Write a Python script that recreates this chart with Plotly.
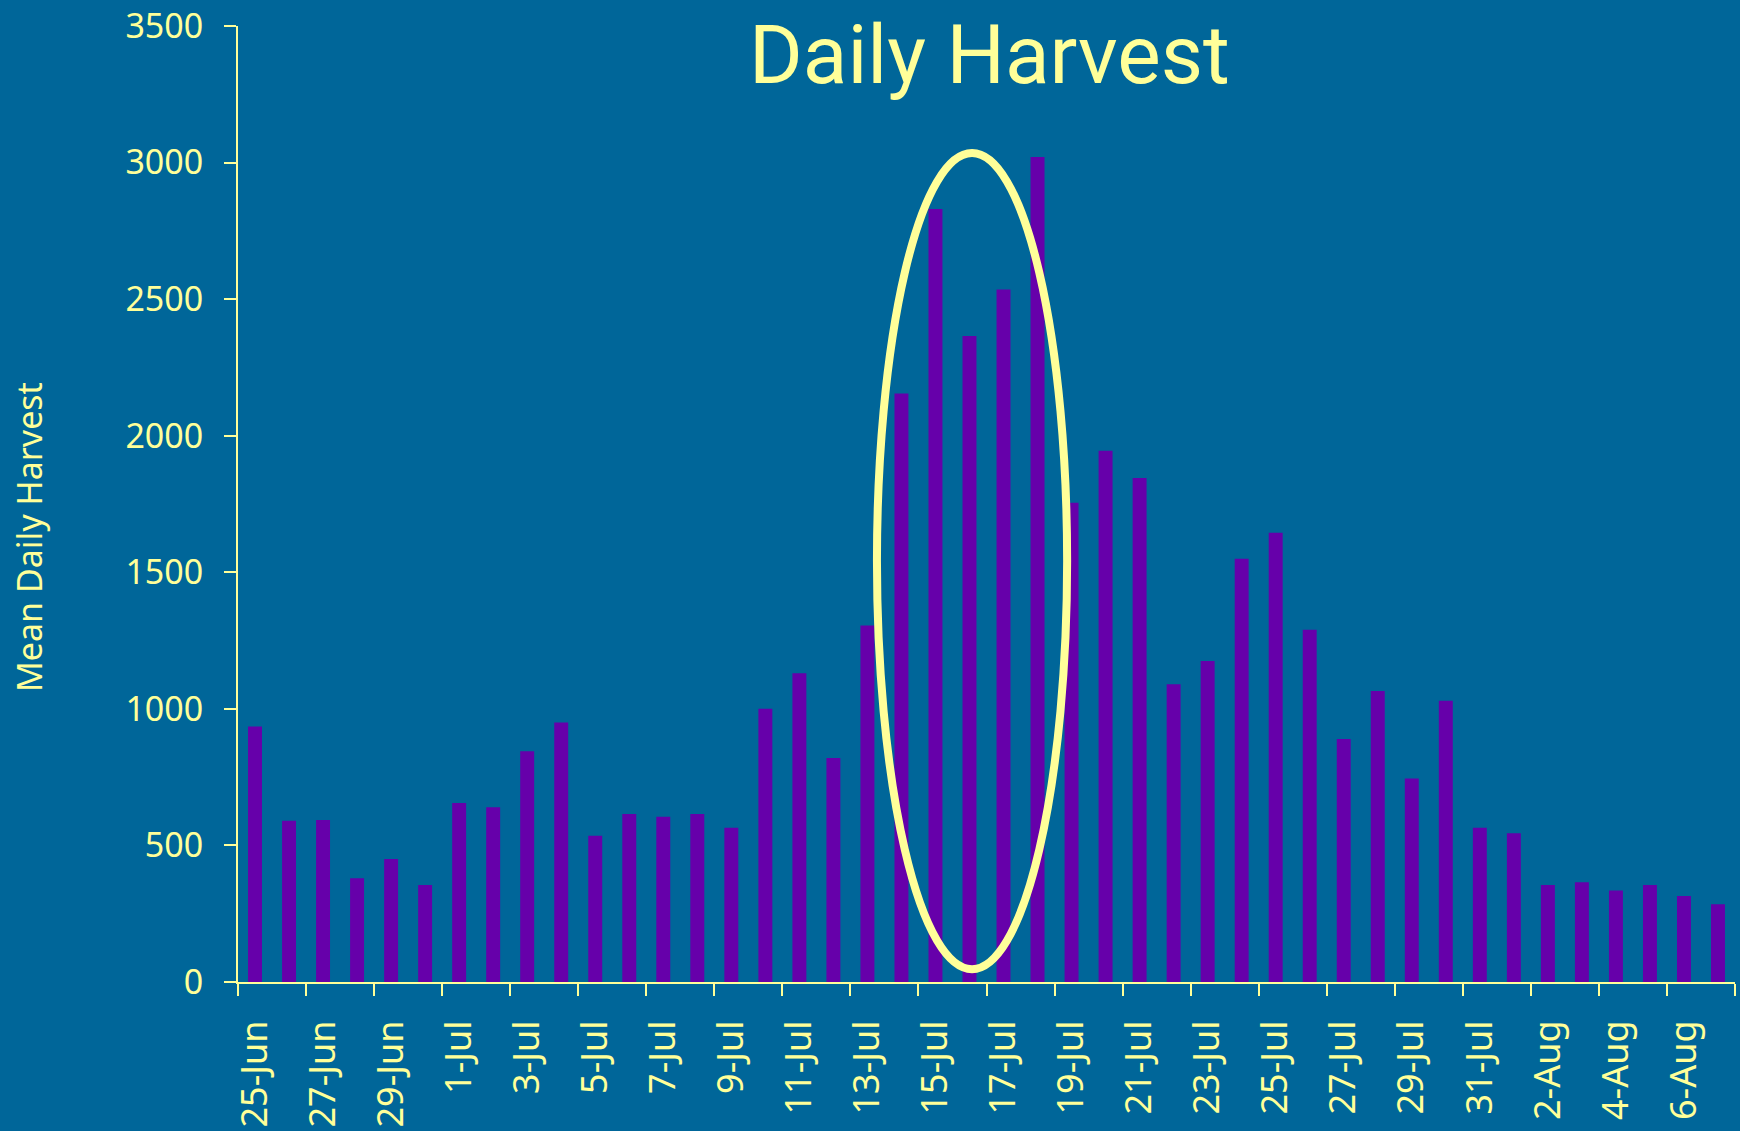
import plotly.graph_objects as go

dates = ["25-Jun", "26-Jun", "27-Jun", "28-Jun", "29-Jun", "30-Jun",
         "1-Jul", "2-Jul", "3-Jul", "4-Jul", "5-Jul", "6-Jul", "7-Jul", "8-Jul",
         "9-Jul", "10-Jul", "11-Jul", "12-Jul", "13-Jul", "14-Jul", "15-Jul",
         "16-Jul", "17-Jul", "18-Jul", "19-Jul", "20-Jul", "21-Jul", "22-Jul",
         "23-Jul", "24-Jul", "25-Jul", "26-Jul", "27-Jul", "28-Jul", "29-Jul",
         "30-Jul", "31-Jul", "1-Aug", "2-Aug", "3-Aug", "4-Aug", "5-Aug",
         "6-Aug", "7-Aug"]
harvest = [935, 590, 593, 380, 450, 355,
           655, 640, 845, 950, 535, 615, 605, 615,
           565, 1000, 1130, 820, 1305, 2155, 2830,
           2365, 2535, 3020, 1755, 1945, 1845, 1090,
           1175, 1550, 1645, 1290, 890, 1065, 745,
           1030, 565, 545, 355, 365, 335, 355,
           315, 285]
y_ticks = [0, 500, 1000, 1500, 2000, 2500, 3000, 3500]

# highlighted peak region (category index / value space)
highlight_x = [18.28, 23.87]
highlight_y = [47, 3035]

BG = "#006699"
BAR = "#6600AA"
TXT = "#FFFF99"
FONT = "Noto Sans, DejaVu Sans, sans-serif"
TITLE_FONT = "Roboto, Noto Sans, sans-serif"

idx = list(range(len(dates)))

fig = go.Figure()
fig.add_trace(go.Bar(x=idx, y=harvest, marker=dict(color=BAR, line=dict(width=0)),
                     hoverinfo="skip"))

fig.add_shape(type="circle", xref="x", yref="y",
              x0=highlight_x[0], x1=highlight_x[1],
              y0=highlight_y[0], y1=highlight_y[1],
              line=dict(color=TXT, width=8), layer="above")

fig.add_annotation(text="Daily Harvest", xref="paper", yref="paper",
                   x=0.5017, y=0.970, xanchor="center", yanchor="middle",
                   showarrow=False, font=dict(family=TITLE_FONT, size=82, color=TXT))
fig.add_annotation(text="Mean Daily Harvest", xref="paper", yref="paper",
                   x=-0.1396, y=0.4655, xanchor="center", yanchor="middle",
                   textangle=-90, showarrow=False,
                   font=dict(family=FONT, size=34, color=TXT))

fig.update_layout(
    width=1740, height=1131,
    paper_bgcolor=BG, plot_bgcolor=BG,
    margin=dict(l=238, r=5, t=26, b=149),
    bargap=0.59, showlegend=False,
    font=dict(family=FONT, color=TXT),
)
fig.update_xaxes(
    range=[-0.5, len(dates) - 0.5], automargin=False,
    tickmode="array", tickvals=idx[::2], ticktext=dates[::2],
    tickangle=-90, ticks="outside", ticklen=12, tickcolor="rgba(0,0,0,0)",
    tickfont=dict(family=FONT, size=36, color=TXT),
    showline=True, linecolor=TXT, linewidth=2,
    showgrid=False, zeroline=False, ticklabelstandoff=10,
    minor=dict(ticks="outside", tick0=-0.5, dtick=2, ticklen=12,
               tickwidth=2, tickcolor=TXT, showgrid=False),
)
fig.update_yaxes(
    range=[0, 3500], automargin=False, tickmode="array", tickvals=y_ticks,
    ticks="outside", ticklen=12, tickwidth=2, tickcolor=TXT,
    tickfont=dict(family=FONT, size=34, color=TXT),
    showline=True, linecolor=TXT, linewidth=2,
    showgrid=False, zeroline=False, ticklabelstandoff=14,
)

fig.write_html("out.html", config={"displayModeBar": False},
               post_script="document.body.style.margin='0';"
                           "document.body.style.background='#006699';")
